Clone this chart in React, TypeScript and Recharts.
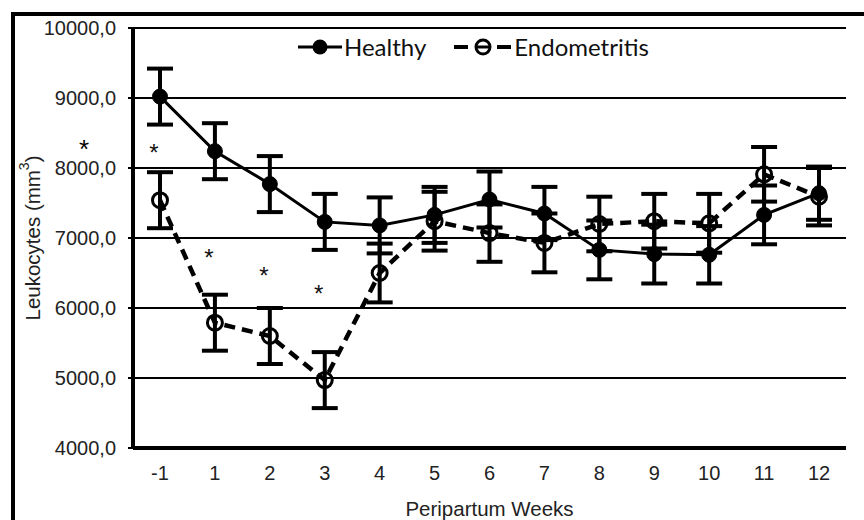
import React from 'react';
import { LineChart, Line, XAxis, YAxis, CartesianGrid, ErrorBar, Label } from 'recharts';

const weeks = ['-1', '1', '2', '3', '4', '5', '6', '7', '8', '9', '10', '11', '12'];
const healthy = [9020, 8240, 7770, 7230, 7180, 7330, 7550, 7350, 6830, 6770, 6760, 7330, 7640];
const healthyErr = [400, 400, 400, 400, 400, 400, 400, 380, 420, 420, 410, 420, 380];
const endometritis = [7540, 5790, 5600, 4970, 6500, 7240, 7070, 6930, 7200, 7240, 7210, 7910, 7590];
const endometritisErr = [400, 400, 400, 400, 420, 420, 410, 420, 390, 390, 420, 390, 410];
const significant = [8290, 6790, 6530, 6270, null, null, null, null, null, null, null, null, null];
const yTicks = [4000, 5000, 6000, 7000, 8000, 9000, 10000];

const data = weeks.map((w, i) => ({
  week: w,
  healthy: healthy[i],
  healthyErr: healthyErr[i],
  endo: endometritis[i],
  endoErr: endometritisErr[i],
  sig: significant[i],
}));

const AXIS_FONT = '"Liberation Sans", Arial, sans-serif';

const StarDot = (props: any) => {
  const { cx, cy, value, index } = props;
  if (value == null || cx == null || cy == null) return <g key={`s${index}`} />;
  return (
    <text key={`s${index}`} x={cx - 6} y={cy + 13} textAnchor="middle" fontSize={24} fontFamily={AXIS_FONT} fill="#111">
      *
    </text>
  );
};

// legend drawn as an overlay so it doesn't take space from the plot
const LegendBox = () => (
  <div
    style={{
      position: 'absolute',
      left: 298,
      top: 33,
      display: 'flex',
      alignItems: 'center',
      fontFamily: 'Lato, sans-serif',
      fontSize: 24,
      color: '#111',
      whiteSpace: 'nowrap',
      lineHeight: '28px',
    }}
  >
    <svg width={46} height={20}>
      <line x1={0} y1={10} x2={44} y2={10} stroke="#000" strokeWidth={3} />
      <circle cx={22} cy={10} r={7.5} fill="#000" />
    </svg>
    <span>Healthy</span>
    <svg width={60} height={20} style={{ marginLeft: 28 }}>
      <line x1={0} y1={10} x2={14} y2={10} stroke="#000" strokeWidth={4} />
      <circle cx={29} cy={10} r={7} fill="none" stroke="#000" strokeWidth={3} />
      <line x1={23} y1={10} x2={35} y2={10} stroke="#000" strokeWidth={3} />
      <line x1={43} y1={10} x2={57} y2={10} stroke="#000" strokeWidth={4} />
    </svg>
    <span>Endometritis</span>
  </div>
);

const YTitle = () => (
  <text
    x={32}
    y={238}
    transform="rotate(-90, 32, 238)"
    textAnchor="middle"
    dominantBaseline="central"
    fontSize={20.5}
    fontFamily={AXIS_FONT}
    fill="#222"
  >
    Leukocytes (mm<tspan dy={-8} fontSize={14}>3</tspan>
    <tspan dy={8}>)</tspan>
  </text>
);

export default function App() {
  return (
    <div style={{ position: 'absolute', left: 0, top: 0, width: 864, height: 520, background: '#fff', overflow: 'hidden' }}>
      <div style={{ position: 'absolute', left: 11, top: 12, width: 853, height: 508, borderLeft: '4px solid #000', borderTop: '4px solid #000' }} />
      <div style={{ position: 'absolute', left: 79, top: 142, fontSize: 26, lineHeight: '14px', height: 14, fontFamily: AXIS_FONT, color: '#000' }}>*</div>
      <LineChart width={864} height={520} data={data} margin={{ top: 28, right: 18, bottom: 0, left: 0 }}>
        <CartesianGrid vertical={false} stroke="#000" strokeWidth={2} />
        <XAxis
          dataKey="week"
          height={72}
          padding={{ left: 27, right: 27 }}
          axisLine={{ stroke: '#000', strokeWidth: 4 }}
          tickLine={false}
          tickSize={0}
          tickMargin={18}
          tick={{ fontSize: 20, fill: '#222', fontFamily: AXIS_FONT }}
          interval={0}
        >
          <Label value="Peripartum Weeks" position="insideBottom" offset={4} style={{ fontSize: 20.5, fill: '#222', fontFamily: AXIS_FONT }} />
        </XAxis>
        <XAxis xAxisId="top" dataKey="week" orientation="top" height={0} padding={{ left: 27, right: 27 }} tick={false} tickLine={false} axisLine={{ stroke: '#000', strokeWidth: 4 }} />
        <YAxis
          width={133}
          domain={[4000, 10000]}
          ticks={yTicks}
          interval={0}
          axisLine={{ stroke: '#000', strokeWidth: 4 }}
          tickLine={{ stroke: '#000', strokeWidth: 2 }}
          tickSize={5}
          tickMargin={12}
          tickFormatter={(v: number) => `${v},0`}
          tick={{ fontSize: 20, fill: '#222', fontFamily: AXIS_FONT }}
        >
          <Label content={<YTitle />} />
        </YAxis>
        <YAxis yAxisId="right" orientation="right" width={0} domain={[4000, 10000]} tick={false} tickLine={false} axisLine={{ stroke: '#000', strokeWidth: 4 }} />
        <Line
          dataKey="healthy"
          stroke="#000"
          strokeWidth={3}
          dot={{ r: 7.5, fill: '#000', stroke: '#000', strokeWidth: 1 }}
          isAnimationActive={false}
        >
          <ErrorBar dataKey="healthyErr" width={13} strokeWidth={4} stroke="#000" direction="y" />
        </Line>
        <Line
          dataKey="endo"
          stroke="#000"
          strokeWidth={4.5}
          strokeDasharray="11 7"
          dot={{ r: 7.5, fill: 'none', stroke: '#000', strokeWidth: 3, strokeDasharray: '0' }}
          isAnimationActive={false}
        >
          <ErrorBar dataKey="endoErr" width={13} strokeWidth={4} stroke="#000" direction="y" />
        </Line>
        <Line dataKey="sig" stroke="none" dot={StarDot} activeDot={false} legendType="none" isAnimationActive={false} />
      </LineChart>
      <LegendBox />
    </div>
  );
}
